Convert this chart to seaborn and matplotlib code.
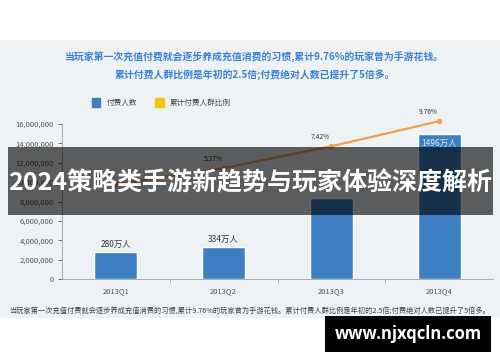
import matplotlib
matplotlib.use("Agg")
import matplotlib.pyplot as plt
from matplotlib.patches import Rectangle, Patch
import seaborn as sns

quarters = ["2013Q1", "2013Q2", "2013Q3", "2013Q4"]
paying_users = [2800000, 3340000, 8360000, 14960000]
user_labels = ["280万人", "334万人", "", "1496万人"]
paying_ratio = [3.86, 5.37, 7.42, 9.76]
ratio_labels = ["3.86%", "5.37%", "7.42%", "9.76%"]
y_ticks = [0, 2000000, 4000000, 6000000, 8000000, 10000000, 12000000, 14000000, 16000000]

title_1 = "当玩家第一次充值付费就会逐步养成充值消费的习惯,累计9.76%的玩家曾为手游花钱。"
title_2 = "累计付费人群比例是年初的2.5倍;付费绝对人数已提升了5倍多。"
caption = ("当玩家第一次充值付费就会逐步养成充值消费的习惯,累计9.76%的玩家曾为手游花钱。"
           "累计付费人群比例是年初的2.5倍;付费绝对人数已提升了5倍多。")
banner = "2024策略类手游新趋势与玩家体验深度解析"
site = "www.njxqcln.com"

sns.set_theme(style="white")
plt.rcParams['font.family'] = ['Noto Sans CJK SC', 'DejaVu Sans']

blue = "#3e7fc3"
orange = "#f2a04f"
bg = "#eef2f4"

fig = plt.figure(figsize=(5, 3.62), dpi=100)
fig.patch.set_facecolor("white")
# light panel behind the chart
fig.patches.append(Rectangle((0, 1 - 318 / 362), 1, 278 / 362, transform=fig.transFigure,
                             facecolor=bg, edgecolor="none", zorder=-5))

ax = fig.add_axes([62 / 500, 1 - 279 / 362, 431 / 500, 155 / 362])
ax.set_zorder(1)
ax.set_facecolor("none")
sns.barplot(x=quarters, y=paying_users, color=blue, width=0.4, saturation=1, ax=ax)
ax.set_ylim(0, 16000000)
ax.set_xlim(-0.5, 3.5)
ax.set_yticks(y_ticks)
ax.set_yticklabels([f"{v:,}" for v in y_ticks])
ax.tick_params(axis="y", labelsize=5.5, colors="#555555", length=3, width=0.6, left=True, pad=3)
ax.tick_params(axis="x", labelsize=5.5, colors="#555555", length=0, pad=6)
ax.set_xticks([0.5, 1.5, 2.5], minor=True)
ax.tick_params(axis="x", which="minor", length=3, width=0.6, bottom=True, color="#aaaaaa")
for s in ["top", "right"]:
    ax.spines[s].set_visible(False)
for s in ["left", "bottom"]:
    ax.spines[s].set_color("#b0b0b0")
    ax.spines[s].set_linewidth(0.8)

for i, (v, lab) in enumerate(zip(paying_users, user_labels)):
    if not lab:
        continue
    if v > 10000000:
        ax.text(i, v - 500000, lab, ha="center", va="top", fontsize=6, color="#dde8f5")
    else:
        ax.text(i, v + 300000, lab, ha="center", va="bottom", fontsize=6, color="#333333")

ax2 = ax.twinx()
ax2.set_zorder(2)
sns.lineplot(x=quarters, y=paying_ratio, ax=ax2, color=orange, marker="o", markersize=4,
             markeredgewidth=0, linewidth=1.6)
for ln in ax2.lines:
    ln.set_clip_on(False)
ax2.set_ylim(-5, 9.5)
ax2.axis("off")
for i, (v, lab) in enumerate(zip(paying_ratio, ratio_labels)):
    ax2.text(i - 0.1, v + 0.45, lab, ha="center", va="bottom", fontsize=4.8, color="#333333",
             clip_on=False)

ax.legend(handles=[Patch(color=blue, label="付费人数"), Patch(color="#f5c400", label="累计付费人群比例")],
          ncol=2, frameon=False, fontsize=5.5, loc="lower left",
          bbox_to_anchor=(85 / 500, 1 - 114 / 362), bbox_transform=fig.transFigure,
          handlelength=1.1, handleheight=1.3, columnspacing=2.4, labelcolor="#444444")

fig.text(0.51, 1 - 57 / 362, title_1, ha="center", va="center", fontsize=7.1, color="#3a80d6",
         fontweight="bold")
fig.text(0.51, 1 - 75 / 362, title_2, ha="center", va="center", fontsize=7.1, color="#3a80d6",
         fontweight="bold")
fig.text(0.5, 1 - 311 / 362, caption, ha="center", va="center", fontsize=5.2, color="#444444")

# overlay banner
fig.patches.append(Rectangle((8 / 500, 1 - 215 / 362), 485 / 500, 68 / 362, transform=fig.transFigure,
                             facecolor="black", alpha=0.62, edgecolor="none", zorder=5))
fig.text(0.5, 1 - 183 / 362, banner, ha="center", va="center", fontsize=18, color="white",
         fontweight="bold", zorder=6)

# site badge
fig.patches.append(Rectangle((325 / 500, 1 - 352 / 362), 166 / 500, 36 / 362, transform=fig.transFigure,
                             facecolor="black", edgecolor="none", zorder=5))
fig.text(408 / 500, 1 - 334 / 362, site, ha="center", va="center", fontsize=12, color="white",
         fontweight="bold", family=["Open Sans", "DejaVu Sans"], zorder=6)

fig.savefig("out.png", dpi=100)
